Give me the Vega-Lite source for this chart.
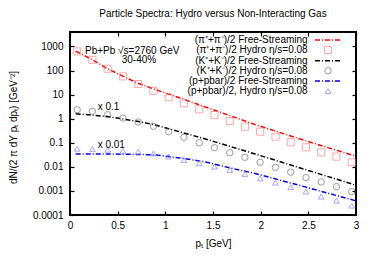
{
  "$schema": "https://vega.github.io/schema/vega-lite/v6.json",
  "autosize": {"type": "none"},
  "padding": {"left": 70, "top": 32, "right": 18, "bottom": 47},
  "width": 286,
  "height": 183,
  "title": {"text": "Particle Spectra: Hydro versus Non-Interacting Gas", "fontSize": 10, "fontWeight": "normal", "font": "Liberation Sans", "offset": 12, "color": "#000000"},
  "config": {
    "font": "Liberation Sans",
    "view": {"stroke": "#000000", "strokeWidth": 2},
    "axis": {"domain": false, "grid": false, "tickColor": "#000000", "tickWidth": 1.2, "tickSize": -4, "labelFontSize": 10, "labelColor": "#000000", "titleFontSize": 10, "titleColor": "#000000", "titleFontWeight": "normal", "labelFont": "Liberation Sans", "titleFont": "Liberation Sans"}
  },
  "datasets": {
    "curves": [
      {"pT": 0.06, "v": 644, "s": "pi"}, {"pT": 0.235, "v": 281, "s": "pi"}, {"pT": 0.39, "v": 121, "s": "pi"}, {"pT": 0.56, "v": 57, "s": "pi"}, {"pT": 0.72, "v": 29, "s": "pi"}, {"pT": 0.895, "v": 16.3, "s": "pi"}, {"pT": 1.157, "v": 7.2, "s": "pi"}, {"pT": 1.42, "v": 3.06, "s": "pi"}, {"pT": 1.94, "v": 0.574, "s": "pi"}, {"pT": 2.466, "v": 0.124, "s": "pi"}, {"pT": 2.99, "v": 0.0283, "s": "pi"},
      {"pT": 0.06, "v": 1.61, "s": "K"}, {"pT": 0.23, "v": 1.42, "s": "K"}, {"pT": 0.393, "v": 1.23, "s": "K"}, {"pT": 0.72, "v": 0.766, "s": "K"}, {"pT": 0.895, "v": 0.548, "s": "K"}, {"pT": 1.157, "v": 0.28, "s": "K"}, {"pT": 1.42, "v": 0.144, "s": "K"}, {"pT": 1.942, "v": 0.0343, "s": "K"}, {"pT": 2.466, "v": 0.0078, "s": "K"}, {"pT": 2.99, "v": 0.00177, "s": "K"},
      {"pT": 0.06, "v": 0.0343, "s": "p"}, {"pT": 0.424, "v": 0.0343, "s": "p"}, {"pT": 0.72, "v": 0.0327, "s": "p"}, {"pT": 0.895, "v": 0.0312, "s": "p"}, {"pT": 1.157, "v": 0.0234, "s": "p"}, {"pT": 1.42, "v": 0.016, "s": "p"}, {"pT": 1.68, "v": 0.009, "s": "p"}, {"pT": 1.942, "v": 0.00532, "s": "p"}, {"pT": 2.466, "v": 0.00147, "s": "p"}, {"pT": 2.99, "v": 0.000396, "s": "p"}
    ],
    "points": [
      {"pT": 0.075, "v": 626, "s": "pi"}, {"pT": 0.235, "v": 281, "s": "pi"}, {"pT": 0.395, "v": 119, "s": "pi"}, {"pT": 0.555, "v": 57.4, "s": "pi"}, {"pT": 0.715, "v": 27.5, "s": "pi"}, {"pT": 0.875, "v": 14.5, "s": "pi"}, {"pT": 1.035, "v": 7.73, "s": "pi"}, {"pT": 1.195, "v": 4.36, "s": "pi"}, {"pT": 1.355, "v": 2.45, "s": "pi"}, {"pT": 1.515, "v": 1.42, "s": "pi"}, {"pT": 1.675, "v": 0.8, "s": "pi"}, {"pT": 1.835, "v": 0.466, "s": "pi"}, {"pT": 1.995, "v": 0.289, "s": "pi"}, {"pT": 2.155, "v": 0.179, "s": "pi"}, {"pT": 2.315, "v": 0.105, "s": "pi"}, {"pT": 2.475, "v": 0.065, "s": "pi"}, {"pT": 2.635, "v": 0.04, "s": "pi"}, {"pT": 2.795, "v": 0.0265, "s": "pi"}, {"pT": 2.955, "v": 0.0155, "s": "pi"},
      {"pT": 0.075, "v": 2.36, "s": "K"}, {"pT": 0.235, "v": 2.03, "s": "K"}, {"pT": 0.395, "v": 1.47, "s": "K"}, {"pT": 0.555, "v": 1.07, "s": "K"}, {"pT": 0.715, "v": 0.73, "s": "K"}, {"pT": 0.875, "v": 0.484, "s": "K"}, {"pT": 1.035, "v": 0.289, "s": "K"}, {"pT": 1.195, "v": 0.169, "s": "K"}, {"pT": 1.355, "v": 0.101, "s": "K"}, {"pT": 1.515, "v": 0.0626, "s": "K"}, {"pT": 1.675, "v": 0.0388, "s": "K"}, {"pT": 1.835, "v": 0.025, "s": "K"}, {"pT": 1.995, "v": 0.0155, "s": "K"}, {"pT": 2.155, "v": 0.0096, "s": "K"}, {"pT": 2.315, "v": 0.006, "s": "K"}, {"pT": 2.475, "v": 0.00356, "s": "K"}, {"pT": 2.635, "v": 0.00236, "s": "K"}, {"pT": 2.795, "v": 0.00151, "s": "K"}, {"pT": 2.955, "v": 0.00094, "s": "K"},
      {"pT": 0.075, "v": 0.0569, "s": "p"}, {"pT": 0.235, "v": 0.0553, "s": "p"}, {"pT": 0.395, "v": 0.0518, "s": "p"}, {"pT": 0.555, "v": 0.047, "s": "p"}, {"pT": 0.715, "v": 0.0427, "s": "p"}, {"pT": 0.875, "v": 0.036, "s": "p"}, {"pT": 1.035, "v": 0.027, "s": "p"}, {"pT": 1.195, "v": 0.0193, "s": "p"}, {"pT": 1.355, "v": 0.0141, "s": "p"}, {"pT": 1.515, "v": 0.0102, "s": "p"}, {"pT": 1.675, "v": 0.00743, "s": "p"}, {"pT": 1.835, "v": 0.00507, "s": "p"}, {"pT": 1.995, "v": 0.00336, "s": "p"}, {"pT": 2.155, "v": 0.00221, "s": "p"}, {"pT": 2.315, "v": 0.00143, "s": "p"}, {"pT": 2.475, "v": 0.00094, "s": "p"}, {"pT": 2.635, "v": 0.00058, "s": "p"}, {"pT": 2.795, "v": 0.000396, "s": "p"}, {"pT": 2.955, "v": 0.000245, "s": "p"}
    ],
    "legendText": [
      {"label": "(π⁺+π⁻)/2 Free-Streaming", "lx": 2.493, "ly": 1845},
      {"label": "(π⁺+π⁻)/2 Hydro η/s=0.08", "lx": 2.493, "ly": 709},
      {"label": "(K⁺+K⁻)/2 Free-Streaming", "lx": 2.493, "ly": 255},
      {"label": "(K⁺+K⁻)/2 Hydro η/s=0.08", "lx": 2.493, "ly": 98.1},
      {"label": "(p+pbar)/2 Free-Streaming", "lx": 2.493, "ly": 36.7},
      {"label": "(p+pbar)/2, Hydro η/s=0.08", "lx": 2.493, "ly": 14.1}
    ],
    "legendLines": [
      {"s": "pi", "x1": 2.57, "x2": 2.853, "ly": 1845},
      {"s": "K", "x1": 2.57, "x2": 2.853, "ly": 255},
      {"s": "p", "x1": 2.57, "x2": 2.853, "ly": 36.7}
    ],
    "legendPoints": [
      {"s": "pi", "lx": 2.706, "ly": 709},
      {"s": "K", "lx": 2.706, "ly": 98.1},
      {"s": "p", "lx": 2.706, "ly": 14.1}
    ],
    "notes": [
      {"t": "Pb+Pb √s=2760 GeV", "nx": 0.157, "ny": 664, "a": "left"},
      {"t": "x 0.1", "nx": 0.29, "ny": 2.97, "a": "left"},
      {"t": "x 0.01", "nx": 0.29, "ny": 0.0834, "a": "left"}
    ],
    "notesC": [
      {"t": "30-40%", "nx": 0.723, "ny": 265}
    ]
  },
  "resolve": {"axis": {"x": "independent", "y": "independent"}},
  "layer": [
    {
      "data": {"name": "curves"},
      "mark": {"type": "line", "strokeWidth": 1.5, "strokeDash": [5, 2, 1, 2], "clip": true},
      "encoding": {
        "x": {"field": "pT", "type": "quantitative", "scale": {"domain": [0, 3], "nice": false}, "axis": {"orient": "bottom", "values": [0, 0.5, 1, 1.5, 2, 2.5, 3], "format": "~g", "labelPadding": 9, "title": "pₜ [GeV]", "titleX": 143, "titleY": 28, "titleBaseline": "middle", "labelFlush": false}},
        "y": {"field": "v", "type": "quantitative", "scale": {"type": "log", "domain": [0.0001, 4000], "nice": false}, "axis": {"orient": "left", "values": [0.0001, 0.001, 0.01, 0.1, 1, 10, 100, 1000], "format": "~g", "labelPadding": 11, "labelOverlap": false, "labelFlush": false, "title": "dN/(2 π dY pₜ dpₜ) [GeV⁻²]", "titleX": -57, "titleY": 95, "titleAlign": "center", "titleBaseline": "middle", "titleAngle": -90}},
        "color": {"field": "s", "type": "nominal", "scale": {"domain": ["pi", "K", "p"], "range": ["#ff0000", "#000000", "#0000ff"]}, "legend": null},
        "detail": {"field": "s"}
      }
    },
    {
      "data": {"name": "points"},
      "mark": {"type": "point", "filled": false, "strokeWidth": 1, "clip": true},
      "encoding": {
        "x": {"field": "pT", "type": "quantitative", "scale": {"domain": [0, 3], "nice": false}, "axis": {"orient": "top", "values": [0, 0.5, 1, 1.5, 2, 2.5, 3], "labels": false, "title": null}},
        "y": {"field": "v", "type": "quantitative", "scale": {"type": "log", "domain": [0.0001, 4000], "nice": false}, "axis": {"orient": "right", "values": [0.0001, 0.001, 0.01, 0.1, 1, 10, 100, 1000], "labels": false, "title": null}},
        "shape": {"field": "s", "type": "nominal", "scale": {"domain": ["pi", "K", "p"], "range": ["square", "circle", "triangle-up"]}, "legend": null},
        "stroke": {"field": "s", "type": "nominal", "scale": {"domain": ["pi", "K", "p"], "range": ["#ff8080", "#707070", "#7f7fff"]}, "legend": null},
        "size": {"field": "s", "type": "nominal", "scale": {"domain": ["pi", "K", "p"], "range": [50, 32, 32]}, "legend": null}
      }
    },
    {
      "data": {"name": "legendText"},
      "mark": {"type": "text", "align": "right", "baseline": "middle", "fontSize": 10, "font": "Liberation Sans", "color": "#000000"},
      "encoding": {
        "x": {"field": "lx", "type": "quantitative", "axis": null},
        "y": {"field": "ly", "type": "quantitative", "axis": null},
        "text": {"field": "label"}
      }
    },
    {
      "data": {"name": "legendLines"},
      "mark": {"type": "rule", "strokeWidth": 1.5, "strokeDash": [5, 2, 1, 2]},
      "encoding": {
        "x": {"field": "x1", "type": "quantitative", "axis": null},
        "x2": {"field": "x2"},
        "y": {"field": "ly", "type": "quantitative", "axis": null},
        "color": {"field": "s", "type": "nominal", "legend": null}
      }
    },
    {
      "data": {"name": "legendPoints"},
      "mark": {"type": "point", "filled": false, "strokeWidth": 1},
      "encoding": {
        "x": {"field": "lx", "type": "quantitative", "axis": null},
        "y": {"field": "ly", "type": "quantitative", "axis": null},
        "shape": {"field": "s", "type": "nominal", "legend": null},
        "stroke": {"field": "s", "type": "nominal", "legend": null},
        "size": {"field": "s", "type": "nominal", "legend": null}
      }
    },
    {
      "data": {"name": "notes"},
      "mark": {"type": "text", "align": "left", "baseline": "middle", "fontSize": 10, "font": "Liberation Sans", "color": "#000000"},
      "encoding": {
        "x": {"field": "nx", "type": "quantitative", "axis": null},
        "y": {"field": "ny", "type": "quantitative", "axis": null},
        "text": {"field": "t"}
      }
    },
    {
      "data": {"name": "notesC"},
      "mark": {"type": "text", "align": "center", "baseline": "middle", "fontSize": 10, "font": "Liberation Sans", "color": "#000000"},
      "encoding": {
        "x": {"field": "nx", "type": "quantitative", "axis": null},
        "y": {"field": "ny", "type": "quantitative", "axis": null},
        "text": {"field": "t"}
      }
    }
  ]
}
